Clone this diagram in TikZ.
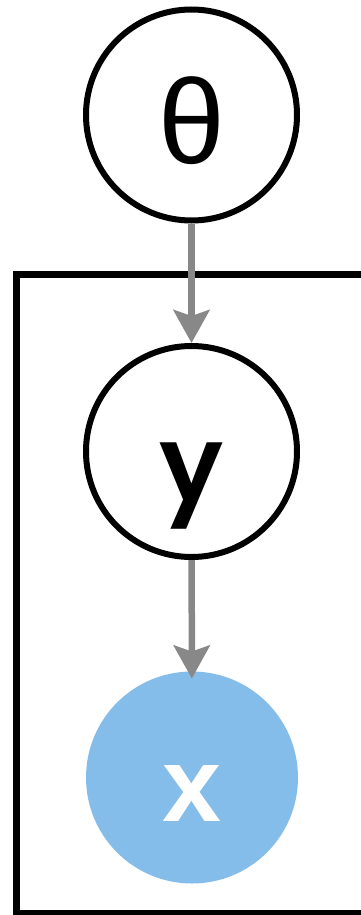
\documentclass[tikz,border=0pt]{standalone}
\usepackage{fontspec}
\setsansfont{Liberation Sans}
\IfFontExistsTF{Poppins SemiBold}
  {\newfontfamily\yfont{Poppins SemiBold}}
  {\newfontfamily\yfont{Poppins}}
\usetikzlibrary{arrows.meta}

\definecolor{obsblue}{RGB}{133,189,234}
\definecolor{edgegray}{RGB}{136,136,136}

\begin{document}
\begin{tikzpicture}[x=1pt, y=-1pt, line cap=butt, line join=miter,
    latent/.style={circle, draw=black, line width=6pt, minimum size=211pt, inner sep=0pt},
    observed/.style={circle, fill=obsblue, line width=6pt, minimum size=212pt, inner sep=0pt, text=white},
    edge/.style={draw=edgegray, line width=6.5pt, -{Stealth[length=33pt, width=36pt, inset=6pt]}}]

  %% ════ plate ════
  \draw[line width=7.3pt] (16.3,274.7) rectangle (390.0,913.6);

  %% ════ nodes ════
  \node[latent, font=\sffamily\fontsize{120}{120}\selectfont, text height=100pt, text depth=2pt] (theta) at (191.5,115.0) {θ};
  \node[latent, font=\yfont\fontsize{106}{106}\selectfont, text height=100pt, text depth=0pt] (yvar) at (191.5,451.5) {y};
  \node[observed, font=\sffamily\bfseries\fontsize{106}{106}\selectfont, text height=94pt, text depth=6pt] (xobs) at (192.0,777.5) {x};

  %% ════ edges ════
  \draw[edge] (theta) -- (yvar);
  \draw[edge, shorten >=-10pt] (yvar) -- (xobs);

  % canvas
  \pgfresetboundingbox
  \path[use as bounding box] (0,0) rectangle (360,915);
\end{tikzpicture}
\end{document}
